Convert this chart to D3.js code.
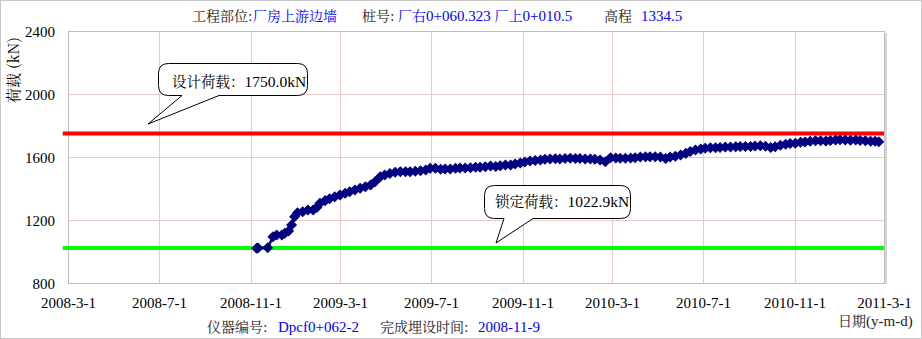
<!DOCTYPE html>
<html>
<head>
<meta charset="utf-8">
<script src="https://cdn.jsdelivr.net/npm/d3@7"></script>
<style>
body { margin: 0; background: #fff; }
</style>
</head>
<body>
<div id="chart"></div>
<script>
// measured loads (kN) by date
var dates = [
  "2008-11-9","2008-11-11","2008-11-24","2008-12-1","2008-12-6","2008-12-13","2008-12-17","2008-12-22","2008-12-26","2008-12-30",
  "2009-1-3","2009-1-10","2009-1-17","2009-1-24","2009-1-29","2009-2-2","2009-2-9","2009-2-15","2009-2-22","2009-3-1",
  "2009-3-8","2009-3-14","2009-3-21","2009-3-28","2009-4-4","2009-4-11","2009-4-17","2009-4-24","2009-4-30","2009-5-7",
  "2009-5-14","2009-5-21","2009-5-28","2009-6-3","2009-6-10","2009-6-17","2009-6-24","2009-6-30","2009-7-7","2009-7-14",
  "2009-7-20","2009-7-27","2009-8-3","2009-8-9","2009-8-16","2009-8-23","2009-8-30","2009-9-5","2009-9-12","2009-9-19",
  "2009-9-26","2009-10-2","2009-10-9","2009-10-16","2009-10-22","2009-10-29","2009-11-4","2009-11-11","2009-11-18","2009-11-25",
  "2009-12-1","2009-12-8","2009-12-15","2009-12-21","2009-12-28","2010-1-4","2010-1-11","2010-1-17","2010-1-24","2010-1-31",
  "2010-2-6","2010-2-13","2010-2-20","2010-2-27","2010-3-6","2010-3-12","2010-3-19","2010-3-26","2010-4-1","2010-4-8",
  "2010-4-15","2010-4-21","2010-4-28","2010-5-5","2010-5-12","2010-5-18","2010-5-25","2010-6-1","2010-6-8","2010-6-14",
  "2010-6-21","2010-6-28","2010-7-4","2010-7-11","2010-7-18","2010-7-24","2010-7-31","2010-8-7","2010-8-14","2010-8-20",
  "2010-8-27","2010-9-3","2010-9-9","2010-9-16","2010-9-23","2010-9-30","2010-10-6","2010-10-13","2010-10-20","2010-10-26",
  "2010-11-2","2010-11-9","2010-11-15","2010-11-22","2010-11-29","2010-12-6","2010-12-13","2010-12-19","2010-12-26","2011-1-1",
  "2011-1-8","2011-1-15","2011-1-22","2011-1-28","2011-2-4","2011-2-11","2011-2-17","2011-2-22"
];
var loads = [
  1020,1022,1024,1094,1105,1105,1116,1130,1168,1221,
  1246,1253,1263,1263,1280,1306,1323,1335,1348,1359,
  1370,1380,1390,1401,1411,1422,1443,1475,1486,1496,
  1503,1507,1507,1507,1510,1513,1517,1528,1528,1522,
  1524,1524,1528,1530,1530,1532,1535,1535,1538,1543,
  1540,1545,1549,1549,1556,1562,1568,1575,1578,1581,
  1585,1587,1589,1587,1590,1592,1590,1590,1588,1587,
  1585,1581,1570,1596,1594,1592,1592,1594,1596,1600,
  1602,1602,1602,1600,1590,1600,1604,1612,1623,1635,
  1645,1651,1655,1658,1659,1660,1663,1663,1665,1666,
  1666,1667,1670,1672,1668,1660,1665,1675,1681,1685,
  1688,1693,1695,1700,1703,1703,1702,1704,1708,1710,
  1708,1706,1708,1705,1703,1700,1700,1697
];
var xTickLabels = ["2008-3-1","2008-7-1","2008-11-1","2009-3-1","2009-7-1","2009-11-1","2010-3-1","2010-7-1","2010-11-1","2011-3-1"];
var yTicks = [800, 1200, 1600, 2000, 2400];
var refLineDates = ["2008-2-23", "2011-3-1"];
var designLoad = 1750.0;
var lockLoad = 1022.9;

var width = 922, height = 339;
var plot = { left: 68, right: 884, top: 31, bottom: 283 };
var latinFont = "'Liberation Serif'";
var cjkFont = "'Noto Serif CJK SC'";
var parse = d3.timeParse("%Y-%-m-%-d");

var svg = d3.select("#chart").append("svg")
    .attr("width", width)
    .attr("height", height);

svg.append("rect")
    .attr("x", 0.5).attr("y", 0.5)
    .attr("width", width - 1).attr("height", height - 1)
    .attr("fill", "#fff")
    .attr("stroke", "#c8c8c8");

var x = d3.scaleTime()
    .domain([parse(xTickLabels[0]), parse(xTickLabels[xTickLabels.length - 1])])
    .range([plot.left, plot.right]);
var y = d3.scaleLinear()
    .domain([yTicks[0], yTicks[yTicks.length - 1]])
    .range([plot.bottom, plot.top]);

// grid
svg.append("g").selectAll("line").data(yTicks.slice(1, -1)).enter()
    .append("line")
    .attr("x1", plot.left).attr("x2", plot.right)
    .attr("y1", function(d) { return Math.round(y(d)) + 0.5; })
    .attr("y2", function(d) { return Math.round(y(d)) + 0.5; })
    .attr("stroke", "#ecc9c9").attr("stroke-width", 1);
svg.append("g").selectAll("line").data(xTickLabels.slice(1, -1)).enter()
    .append("line")
    .attr("x1", function(d) { return Math.round(x(parse(d))) + 0.5; })
    .attr("x2", function(d) { return Math.round(x(parse(d))) + 0.5; })
    .attr("y1", plot.top).attr("y2", plot.bottom)
    .attr("stroke", "#ecc9c9").attr("stroke-width", 1);

// plot frame
svg.append("rect")
    .attr("x", plot.left + 0.5).attr("y", plot.top + 0.5)
    .attr("width", plot.right - plot.left).attr("height", plot.bottom - plot.top)
    .attr("fill", "none").attr("stroke", "#bdbdbd");
svg.append("line")
    .attr("x1", plot.right + 2).attr("x2", plot.right + 2)
    .attr("y1", plot.top + 2).attr("y2", plot.bottom + 1)
    .attr("stroke", "#d6d6d6").attr("stroke-width", 2);

// axes
var xAxis = svg.append("g")
    .attr("transform", "translate(0," + plot.bottom + ")")
    .call(d3.axisBottom(x)
        .tickValues(xTickLabels.map(parse))
        .tickFormat(function(d, i) { return xTickLabels[i]; })
        .tickSize(0).tickPadding(14));
var yAxis = svg.append("g")
    .attr("transform", "translate(" + (plot.left - 13) + ",0)")
    .call(d3.axisLeft(y).tickValues(yTicks).tickFormat(d3.format("d")).tickSize(0).tickPadding(0));
[xAxis, yAxis].forEach(function(a) {
    a.select(".domain").remove();
    a.selectAll("text")
        .style("font-family", latinFont)
        .style("font-size", "15px")
        .attr("fill", "#000");
});
yAxis.selectAll("text").attr("dy", "0.34em");

// reference lines
var refLine = d3.line()
    .x(function(d) { return x(parse(d)); });
svg.append("path")
    .attr("d", refLine.y(function() { return y(designLoad); })(refLineDates))
    .attr("fill", "none").attr("stroke", "#ff0000").attr("stroke-width", 4);
svg.append("path")
    .attr("d", refLine.y(function() { return y(lockLoad); })(refLineDates))
    .attr("fill", "none").attr("stroke", "#00ff00").attr("stroke-width", 4);

// series
var series = dates.map(function(d, i) { return { date: parse(d), value: loads[i] }; });
svg.append("path")
    .datum(series)
    .attr("d", d3.line().x(function(d) { return x(d.date); }).y(function(d) { return y(d.value); }))
    .attr("fill", "none").attr("stroke", "#000080").attr("stroke-width", 2.5);
svg.append("g").selectAll("path").data(series).enter()
    .append("path")
    .attr("d", d3.symbol().type(d3.symbolSquare).size(46))
    .attr("transform", function(d) { return "translate(" + x(d.date) + "," + y(d.value) + ") rotate(45)"; })
    .attr("fill", "#000080")
    .attr("stroke", "#000080")
    .attr("stroke-width", 1);

// text made of CJK and Latin runs
function richText(g, parts, px, py, size, color) {
    var t = g.append("text").attr("x", px).attr("y", py).attr("fill", color || "#000");
    parts.forEach(function(p) {
        var cjk = /[\u3000-\u9fff\uff00-\uffef]/.test(p);
        t.append("tspan")
            .style("font-family", cjk ? cjkFont : latinFont)
            .style("font-size", (cjk ? size - 1 : size) + "px")
            .text(p);
    });
    return t;
}

// callouts
function calloutPath(x0, y0, x1, y1, r, b1, b2, tx, ty) {
    return "M" + (x0 + r) + "," + y0 + " H" + (x1 - r) + " Q" + x1 + "," + y0 + " " + x1 + "," + (y0 + r) +
        " V" + (y1 - r) + " Q" + x1 + "," + y1 + " " + (x1 - r) + "," + y1 +
        " H" + b2 + " L" + tx + "," + ty + " L" + b1 + "," + y1 +
        " H" + (x0 + r) + " Q" + x0 + "," + y1 + " " + x0 + "," + (y1 - r) +
        " V" + (y0 + r) + " Q" + x0 + "," + y0 + " " + (x0 + r) + "," + y0 + " Z";
}
svg.append("path")
    .attr("d", calloutPath(158.5, 63.5, 307.5, 95.5, 10, 182, 219, 148, 124))
    .attr("fill", "#fff").attr("stroke", "#000").attr("stroke-width", 1);
richText(svg, ["设计荷载：", designLoad.toFixed(1) + "kN"], 172, 87, 15.5);
svg.append("path")
    .attr("d", calloutPath(484.5, 185.5, 630.5, 218.5, 10, 504, 533, 496, 243))
    .attr("fill", "#fff").attr("stroke", "#000").attr("stroke-width", 1);
richText(svg, ["锁定荷载：", lockLoad.toFixed(1) + "kN"], 495, 207, 15.5);

// header and footer texts
var labels = [
    { t: "工程部位:", x: 192, y: 21, c: "#222" },
    { t: "厂房上游边墙", x: 253, y: 21, c: "#0000ff" },
    { t: "桩号:", x: 362, y: 21, c: "#222" },
    { t: ["厂右", "0+060.323 ", "厂上", "0+010.5"], x: 398, y: 21, c: "#0000ff" },
    { t: "高程", x: 604, y: 21, c: "#222" },
    { t: "1334.5", x: 641, y: 21, c: "#0000ff" },
    { t: "仪器编号:", x: 207, y: 332, c: "#222" },
    { t: "Dpcf0+062-2", x: 278, y: 332, c: "#0000ff" },
    { t: "完成埋设时间:", x: 380, y: 332, c: "#222" },
    { t: "2008-11-9", x: 478, y: 332, c: "#0000ff" },
    { t: ["日期", "(y-m-d)"], x: 838, y: 326, c: "#222" }
];
labels.forEach(function(d) {
    richText(svg, [].concat(d.t), d.x, d.y, 15, d.c);
});

svg.append("text")
    .attr("transform", "translate(19,70) rotate(-90)")
    .attr("text-anchor", "middle")
    .style("font-family", cjkFont)
    .style("font-size", "15px")
    .text("荷载 (kN)");
</script>
</body>
</html>
